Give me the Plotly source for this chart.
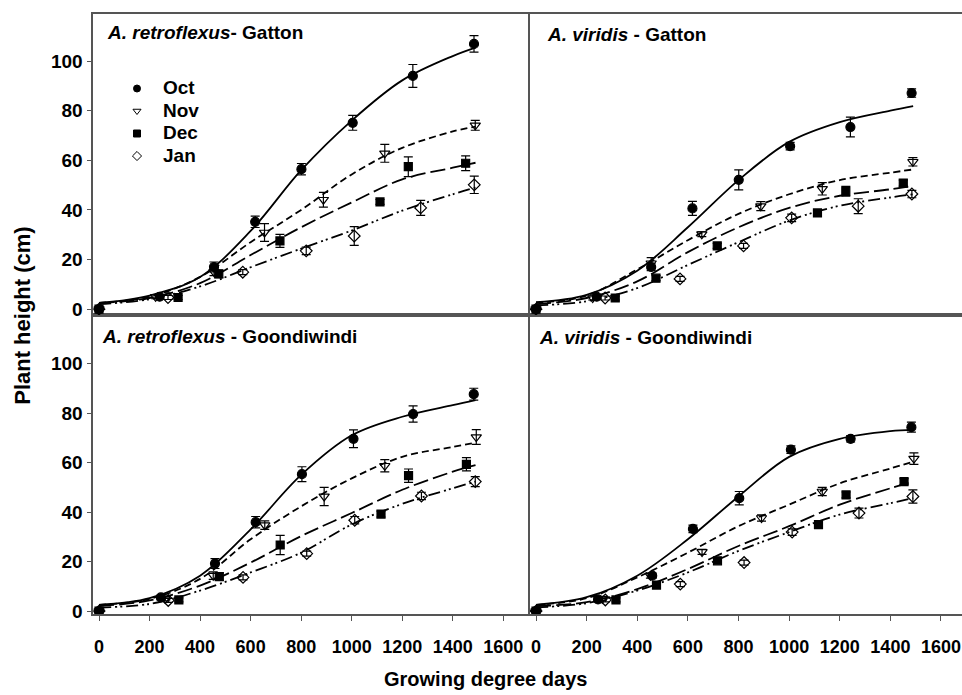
import plotly.graph_objects as go

W, H = 962, 695

# ---------------- data ----------------
months = ["Oct", "Nov", "Dec", "Jan"]

# sampling GDD per sowing time (observations)
gat_x = {
    "Oct": [0, 240, 455, 618, 801, 1004, 1242, 1484],
    "Nov": [0, 224, 455, 655, 888, 1131, 1489],
    "Dec": [0, 313, 474, 716, 1112, 1224, 1451],
    "Jan": [0, 273, 569, 820, 1010, 1273, 1485],
}
goo_x = {
    "Oct": [0, 245, 459, 620, 803, 1007, 1243, 1483],
    "Nov": [0, 262, 452, 656, 891, 1131, 1493],
    "Dec": [0, 316, 476, 717, 1116, 1225, 1454],
    "Jan": [0, 274, 570, 822, 1012, 1276, 1489],
}

# observed plant height (cm)
retro_gat_y = {
    "Oct": [0, 5, 17, 35.2, 56.4, 75.1, 94, 106.9],
    "Nov": [0, 5, 15, 30.9, 44.1, 62.8, 74.1],
    "Dec": [0, 4.7, 14.2, 27.5, 43.2, 57.4, 58.8],
    "Jan": [0, 4.7, 14.9, 23.5, 29.5, 40.8, 50.1],
}
retro_gat_e = {
    "Oct": [0, 0.8, 2, 2.3, 2.3, 3, 4.6, 3.3],
    "Nov": [0, 0.8, 1.5, 3.6, 3, 3.6, 2],
    "Dec": [0, 0.8, 1.5, 2.6, 1, 4, 3],
    "Jan": [0, 0.8, 1, 1.5, 3.8, 3, 3.5],
}
virid_gat_y = {
    "Oct": [0, 5, 17, 40.6, 52.1, 65.7, 73.4, 87.1],
    "Nov": [0, 4.5, 18.5, 30.2, 41.5, 48.5, 59.4],
    "Dec": [0, 4.5, 12.5, 25.5, 38.8, 47.5, 50.8],
    "Jan": [0, 4.5, 12.2, 25.5, 36.8, 41.5, 46.4],
}
virid_gat_e = {
    "Oct": [0, 0.8, 1.5, 2.8, 4, 1.5, 4, 1.7],
    "Nov": [0, 0.8, 2.3, 1, 1.8, 2.5, 1.7],
    "Dec": [0, 0.8, 1, 1, 1, 2, 1.2],
    "Jan": [0, 0.8, 1, 1, 1.5, 3, 1.5],
}
retro_goo_y = {
    "Oct": [0, 5.5, 19.2, 35.9, 55.3, 69.6, 79.6, 87.6],
    "Nov": [0, 4.9, 14.3, 34.7, 46.3, 58.7, 70.3],
    "Dec": [0, 4.5, 13.9, 26.7, 39.2, 54.7, 59.3],
    "Jan": [0, 4.3, 13.6, 23.2, 36.7, 46.5, 52.3],
}
retro_goo_e = {
    "Oct": [0, 1, 2, 2.3, 3, 3.6, 3.3, 2.4],
    "Nov": [0, 0.8, 1.5, 1.7, 3.7, 2.5, 3],
    "Dec": [0, 0.8, 1.5, 3.9, 1.2, 2.7, 2.7],
    "Jan": [0, 0.8, 1, 1, 1.5, 1.5, 2],
}
virid_goo_y = {
    "Oct": [0, 4.7, 14.3, 33.2, 45.6, 65.2, 69.6, 74.3],
    "Nov": [0, 5, 14.3, 23.9, 37.6, 48.3, 61.6],
    "Dec": [0, 4.5, 10.5, 20.3, 34.9, 46.9, 52.3],
    "Jan": [0, 4.5, 10.9, 19.6, 31.9, 39.6, 46.3],
}
virid_goo_e = {
    "Oct": [0, 0.8, 1, 1.5, 2.7, 1.5, 1.3, 2],
    "Nov": [0, 0.8, 1, 1, 1.3, 1.7, 2.3],
    "Dec": [0, 0.8, 1, 1, 1, 1.2, 1.2],
    "Jan": [0, 0.8, 1, 1, 1.3, 2, 2.7],
}

# fitted curves read at these GDD values
curve_x = [0, 200, 400, 600, 800, 1000, 1200, 1400, 1490]
retro_gat_fit = {
    "Oct": [2.5, 5.5, 13, 31.5, 56, 76, 92.2, 102, 105.4],
    "Nov": [2.5, 5, 13, 27, 40, 54.3, 65, 71.6, 73.6],
    "Dec": [2.5, 4.5, 10.5, 21.8, 33, 43, 52.3, 57, 59],
    "Jan": [2, 4, 9.2, 16.9, 24.4, 31.7, 39.7, 46.3, 49],
}
virid_gat_fit = {
    "Oct": [2.8, 5.8, 15.5, 33, 52, 67.4, 75.4, 80, 81.8],
    "Nov": [2.5, 5.5, 16, 27.8, 38.4, 46.3, 52, 55, 56.3],
    "Dec": [2, 4.5, 11.2, 23, 33, 40.8, 45.7, 48.3, 49.7],
    "Jan": [1.5, 3.2, 8.5, 17.8, 27, 35.7, 41.7, 45, 46.3],
}
retro_goo_fit = {
    "Oct": [2.5, 5.2, 14.3, 33, 55, 71, 78.5, 83.2, 85.2],
    "Nov": [2.5, 4.9, 13, 29, 42.3, 53.6, 62.3, 66.3, 68],
    "Dec": [2, 4.3, 10.3, 19.6, 30.3, 39.6, 49, 56.3, 59],
    "Jan": [1.5, 2.9, 8.3, 15.6, 23.6, 35, 43.3, 49.6, 52.3],
}
virid_goo_fit = {
    "Oct": [2.5, 5.6, 14.3, 29, 46.3, 62.3, 69.6, 72.7, 73.2],
    "Nov": [2.5, 5.2, 13.6, 23.6, 34.3, 43, 51.6, 57.6, 60.3],
    "Dec": [2, 3.6, 8.9, 17, 26.3, 34.3, 43, 49.6, 52.3],
    "Jan": [1.5, 3.2, 8.3, 15.6, 24.3, 31.9, 39, 43.6, 45.6],
}

x_ticks = [0, 200, 400, 600, 800, 1000, 1200, 1400, 1600]
y_ticks = [0, 20, 40, 60, 80, 100]

# ---------------- styles ----------------
marker_sym = {"Oct": "circle", "Nov": "triangle-down-open", "Dec": "square", "Jan": "diamond-open"}
marker_size = {"Oct": 9, "Nov": 9, "Dec": 8, "Jan": 9}
line_dash = {"Oct": "solid", "Nov": "7px,4px", "Dec": "15px,5px", "Jan": "12px,4px,2px,3px,2px,4px"}

panels = [
    (gat_x, retro_gat_y, retro_gat_e, retro_gat_fit, "x3", "y3"),
    (gat_x, virid_gat_y, virid_gat_e, virid_gat_fit, "x4", "y4"),
    (goo_x, retro_goo_y, retro_goo_e, retro_goo_fit, "x", "y"),
    (goo_x, virid_goo_y, virid_goo_e, virid_goo_fit, "x2", "y2"),
]

fig = go.Figure()
for xs, ys, es, fits, xa, ya in panels:
    for m in months:
        fig.add_trace(go.Scatter(
            x=curve_x, y=fits[m], mode="lines", xaxis=xa, yaxis=ya,
            line=dict(color="black", width=1.8, dash=line_dash[m], shape="spline"),
            showlegend=False, hoverinfo="skip"))
    for m in months:
        fig.add_trace(go.Scatter(
            x=xs[m], y=ys[m], mode="markers", xaxis=xa, yaxis=ya,
            marker=dict(symbol=marker_sym[m], size=marker_size[m], color="black",
                        line=dict(color="black", width=1.2)),
            error_y=dict(type="data", array=es[m], color="black", thickness=1.2, width=4.5),
            showlegend=False))

# legend entries
for m in months:
    fig.add_trace(go.Scatter(
        x=[None], y=[None], mode="markers", xaxis="x3", yaxis="y3",
        name="<span style='font-size:19px'>%s</span>" % m,
        marker=dict(symbol=marker_sym[m], size=7, color="black",
                    line=dict(color="black", width=1)),
        showlegend=True))

# ---------------- layout ----------------
def px_x(p):
    return p / W

def px_y(p):
    return 1 - p / H

xl = [px_x(93.3), px_x(528)]
xr = [px_x(529.5), 1.0]
yt = [px_y(318.7), px_y(14)]
yb = [px_y(620.7), px_y(318.7)]

FONT = "Liberation Sans, Arial, sans-serif"
axcol = "#555555"
tickfont_y = dict(family=FONT, size=19, color="black", weight="bold")
tickfont_x = dict(family=FONT, size=18, color="black", weight="bold")

def xaxis(dom, rng, labels, anchor):
    return dict(domain=dom, range=rng, anchor=anchor, showgrid=False, zeroline=False,
                showline=True, linecolor=axcol, linewidth=1.6, mirror=True,
                tickmode="array", tickvals=x_ticks, ticktext=[str(v) for v in x_ticks],
                ticks="outside" if labels else "", ticklen=5, tickcolor=axcol, tickwidth=1,
                showticklabels=labels, tickfont=tickfont_x, ticklabelstandoff=10,
                ticklabeloverflow="allow")

def yaxis(dom, rng, labels, anchor, mirror):
    return dict(domain=dom, range=rng, anchor=anchor, showgrid=False, zeroline=False,
                showline=True, linecolor=axcol, linewidth=1.6, mirror=mirror,
                tickmode="array", tickvals=y_ticks,
                ticks="outside" if labels else "", ticklen=5, tickcolor=axcol, tickwidth=1,
                showticklabels=labels, tickfont=tickfont_y, ticklabeloverflow="allow")

xl_rng = [-22.6, 1697.7]
xr_rng = [-25.7, 1683]
yt_rng = [-2.55, 119.0]
yb_rng = [-1.36, 119.4]

title_font = dict(family=FONT, size=19, color="black")

annotations = [
    dict(text="<b><i>A. retroflexus</i>- Gatton</b>", x=px_x(105), y=px_y(33)),
    dict(text="<b><i>A. viridis</i> - Gatton</b>", x=px_x(545), y=px_y(35)),
    dict(text="<b><i>A. retroflexus</i> - Goondiwindi</b>", x=px_x(100), y=px_y(340)),
    dict(text="<b><i>A. viridis</i> - Goondiwindi</b>", x=px_x(537), y=px_y(341)),
]
for a in annotations:
    a.update(xref="paper", yref="paper", xanchor="left", yanchor="middle",
             showarrow=False, font=title_font)

annotations.append(dict(text="<b>Plant height (cm)</b>", x=px_x(23), y=px_y(319), xref="paper",
                        yref="paper", textangle=-90, showarrow=False, xanchor="center",
                        yanchor="middle", font=dict(family=FONT, size=22, color="black")))
annotations.append(dict(text="<b>Growing degree days</b>", x=px_x(485), y=px_y(686), xref="paper",
                        yref="paper", showarrow=False, xanchor="center", yanchor="middle",
                        font=dict(family=FONT, size=20, color="black")))

fig.update_layout(
    width=W, height=H,
    margin=dict(l=0, r=0, t=0, b=0),
    paper_bgcolor="white", plot_bgcolor="white",
    xaxis=xaxis(xl, xl_rng, True, "y"),
    yaxis=yaxis(yb, yb_rng, True, "x", True),
    xaxis2=xaxis(xr, xr_rng, True, "y2"),
    yaxis2=yaxis(yb, yb_rng, False, "x2", False),
    xaxis3=xaxis(xl, xl_rng, False, "y3"),
    yaxis3=yaxis(yt, yt_rng, True, "x3", True),
    xaxis4=xaxis(xr, xr_rng, False, "y4"),
    yaxis4=yaxis(yt, yt_rng, False, "x4", False),
    showlegend=True,
    legend=dict(x=px_x(111), y=px_y(73), xanchor="left", yanchor="top",
                bgcolor="rgba(0,0,0,0)", borderwidth=0, itemwidth=42,
                font=dict(family=FONT, size=15, color="black", weight="bold"),
                tracegroupgap=0),
    annotations=annotations,
)

fig.write_html("out.html")
